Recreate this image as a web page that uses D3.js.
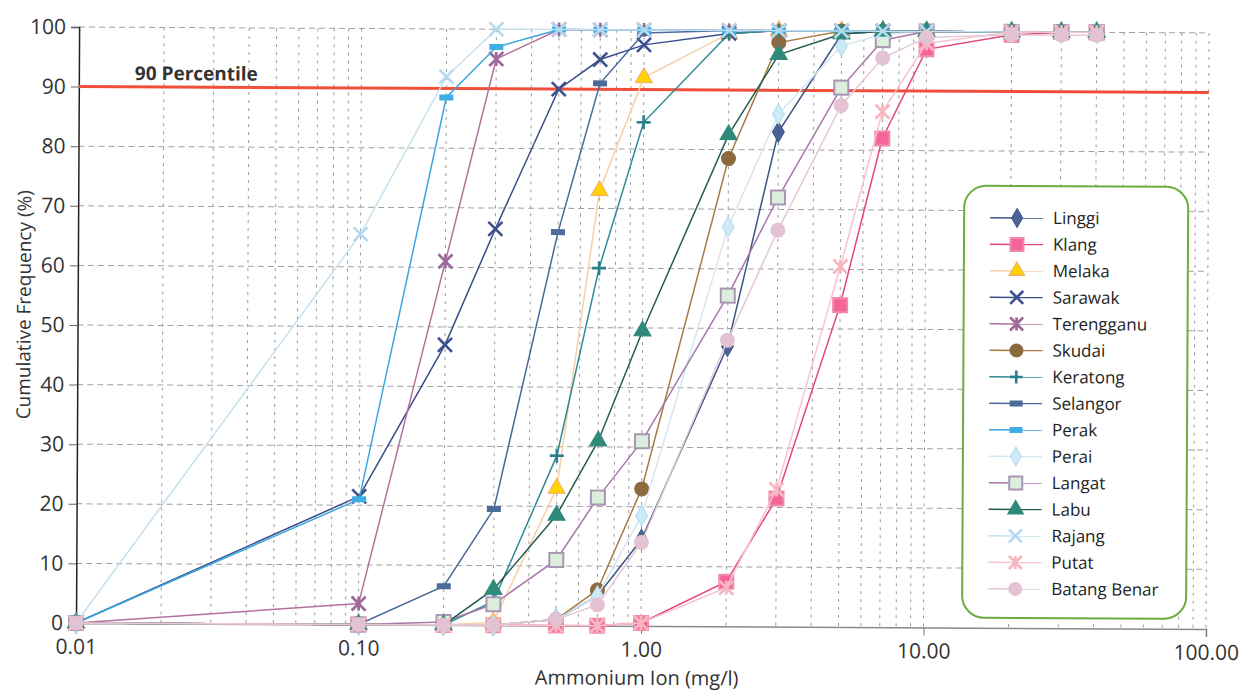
<!DOCTYPE html>
<html>
<head>
<meta charset="utf-8">
<script src="https://cdn.jsdelivr.net/npm/d3@7"></script>
<style>
  html, body { margin: 0; padding: 0; background: #ffffff; }
  svg { display: block; font-family: "Open Sans", "Noto Sans", sans-serif; }
</style>
</head>
<body>
<svg id="chart" width="1249" height="695"></svg>
<script>
// Ammonium ion concentrations sampled along the log axis (mg/l)
const concentrations = [0.01, 0.1, 0.2, 0.3, 0.5, 0.7, 1, 2, 3, 5, 7, 10, 20, 30, 40];

// Cumulative frequency (%) per river basin at each concentration
const linggi      = [0, 0, 0, 0, 1, 5, 14.5, 47, 83, 99.5, 100, 100, 100, 100, 100];
const klang       = [0, 0, 0, 0, 0, 0, 0.5, 7.5, 21.5, 54, 82, 97, 99.5, 100, 100];
const melaka      = [0, 0, 0, 0.5, 23, 73, 92, 99.5, 100, 100, 100, 100, 100, 100, 100];
const sarawak     = [0, 21.5, 47, 66.5, 90, 95, 97.5, 99.5, 100, 100, 100, 100, 100, 100, 100];
const terengganu  = [0, 3.5, 61, 95, 100, 100, 100, 100, 100, 100, 100, 100, 100, 100, 100];
const skudai      = [0, 0, 0, 0, 1, 6, 23, 78.5, 98, 100, 100, 100, 100, 100, 100];
const keratong    = [0, 0, 0, 4, 28.5, 60, 84.5, 99.5, 100, 100, 100, 100, 100, 100, 100];
const selangor    = [0, 0, 6.5, 19.5, 66, 91, 99.5, 100, 100, 100, 100, 100, 100, 100, 100];
const perak       = [0, 21, 88.5, 97, 100, 100, 100, 100, 100, 100, 100, 100, 100, 100, 100];
const perai       = [0, 0, 0, 0, 1, 5, 18.5, 67, 86, 97.5, 99.5, 100, 100, 100, 100];
const langat      = [0, 0, 0.5, 3.5, 11, 21.5, 31, 55.5, 72, 90.5, 98.5, 100, 100, 100, 100];
const labu        = [0, 0, 0, 6, 18.5, 31, 49.5, 82.5, 96, 99.5, 100, 100, 100, 100, 100];
const rajang      = [0, 65.5, 92, 100, 100, 100, 100, 100, 100, 100, 100, 100, 100, 100, 100];
const putat       = [0, 0, 0, 0, 0, 0, 0.5, 6.5, 23, 60.5, 86.5, 98, 100, 100, 100];
const batangBenar = [0, 0, 0, 0, 1, 3.5, 14, 48, 66.5, 87.5, 95.5, 99, 99.5, 99.5, 99.5];

const seriesNames = ["Linggi", "Klang", "Melaka", "Sarawak", "Terengganu", "Skudai", "Keratong",
  "Selangor", "Perak", "Perai", "Langat", "Labu", "Rajang", "Putat", "Batang Benar"];
const seriesValues = [linggi, klang, melaka, sarawak, terengganu, skudai, keratong,
  selangor, perak, perai, langat, labu, rajang, putat, batangBenar];

// Tick labels
const xTickValues = [0.01, 0.1, 1, 10, 100];
const xTickLabels = ["0.01", "0.10", "1.00", "10.00", "100.00"];
const yTickValues = [0, 10, 20, 30, 40, 50, 60, 70, 80, 90, 100];
const percentileLevel = 90;

// Line / marker styling per series
const styles = [
  { line: "#3f5486", marker: "diamond",  fill: "#4b6394", stroke: "#3f5486" },
  { line: "#e4457c", marker: "square",   fill: "#f5649a", stroke: "#f08aa8" },
  { line: "#f6cfa6", marker: "triangle", fill: "#ffd400", stroke: "#f3b06a" },
  { line: "#3c4d8c", marker: "x",        fill: "none",    stroke: "#3c4f8e" },
  { line: "#b5709e", marker: "star",     fill: "none",    stroke: "#9c6b9c" },
  { line: "#a67c44", marker: "circle",   fill: "#8c6a3e", stroke: "#8c6a3e" },
  { line: "#2f8a92", marker: "plus",     fill: "none",    stroke: "#2a7f8c" },
  { line: "#4a6b98", marker: "dash",     fill: "#4b6b98", stroke: "#4b6b98" },
  { line: "#3aa6dc", marker: "dash",     fill: "#3eaee6", stroke: "#3eaee6" },
  { line: "#d4e6ef", marker: "diamond",  fill: "#cdeaf6", stroke: "#b4dcee" },
  { line: "#a877a8", marker: "square",   fill: "#dcefdc", stroke: "#a896b4" },
  { line: "#245c54", marker: "triangle", fill: "#2f8a7a", stroke: "#2f8a7a" },
  { line: "#c6e0ee", marker: "x",        fill: "none",    stroke: "#b4d9f0" },
  { line: "#f7c4cb", marker: "star",     fill: "none",    stroke: "#f6b7c0" },
  { line: "#e4c8d6", marker: "circle",   fill: "#e3c3d3", stroke: "#e3c3d3" }
];

const svg = d3.select("#chart");

// Plot frame
const plotLeft = 76, plotRight = 1206, plotTop = 27, plotBottom = 623;

// The whole sheet sits very slightly tilted
const root = svg.append("g").attr("transform", `rotate(0.3, ${plotLeft}, ${plotBottom})`);

const x = d3.scaleLog().domain([0.01, 100]).range([plotLeft, plotRight]);
const y = d3.scaleLinear().domain([0, 100]).range([plotBottom, plotTop]);

// Vertical grid at every 1..9 multiple of each decade
const gridX = [];
for (let d = -2; d < 2; d++) {
  for (let m = 1; m <= 9; m++) {
    const v = m * Math.pow(10, d);
    if (v > 0.01) gridX.push(v);
  }
}
gridX.push(100);
root.append("g").selectAll("line").data(gridX).join("line")
  .attr("x1", d => x(d)).attr("x2", d => x(d))
  .attr("y1", y(100)).attr("y2", y(0))
  .attr("stroke", "#9a9a9a").attr("stroke-width", 1)
  .attr("stroke-dasharray", "3,5");

// Horizontal grid every 10 %
root.append("g").selectAll("line").data(yTickValues.filter(v => v > 0)).join("line")
  .attr("x1", x(0.01)).attr("x2", x(100))
  .attr("y1", d => y(d)).attr("y2", d => y(d))
  .attr("stroke", "#a0a0a0").attr("stroke-width", 1)
  .attr("stroke-dasharray", "6,4");

// Axes
const xAxis = d3.axisBottom(x).tickValues(xTickValues)
  .tickFormat((d, i) => xTickLabels[i]).tickSize(8).tickPadding(8);
const gx = root.append("g").attr("transform", `translate(0,${plotBottom})`).call(xAxis);
gx.select(".domain").attr("stroke", "#8a8a8a").attr("stroke-width", 1.5);
gx.selectAll(".tick line").attr("stroke", "#777");
gx.selectAll(".tick text").attr("fill", "#333").attr("font-size", 21)
  .attr("font-family", "'Open Sans', sans-serif");

const yAxis = d3.axisLeft(y).tickValues(yTickValues).tickSize(8).tickPadding(5);
const gy = root.append("g").attr("transform", `translate(${plotLeft},0)`).call(yAxis);
gy.select(".domain").attr("stroke", "#222").attr("stroke-width", 1.5);
gy.selectAll(".tick line").attr("stroke", "#666");
gy.selectAll(".tick text").attr("fill", "#333").attr("font-size", 21)
  .attr("font-family", "'Open Sans', sans-serif");

// Axis titles
root.append("text")
  .attr("x", 637).attr("y", 682)
  .attr("text-anchor", "middle").attr("font-size", 20).attr("fill", "#333")
  .text("Ammonium Ion (mg/l)");
root.append("text")
  .attr("transform", "translate(29,305) rotate(-90)")
  .attr("text-anchor", "middle").attr("font-size", 19).attr("fill", "#333")
  .text("Cumulative Frequency (%)");

// 90th percentile reference line
root.append("line")
  .attr("x1", x(0.01)).attr("x2", x(100))
  .attr("y1", y(percentileLevel)).attr("y2", y(percentileLevel))
  .attr("stroke", "#f0503a").attr("stroke-width", 3);
root.append("text")
  .attr("x", 132).attr("y", y(percentileLevel) - 7)
  .attr("font-size", 19).attr("font-weight", "bold").attr("fill", "#333")
  .text("90 Percentile");

// Marker drawing
function drawMarker(sel, st, size) {
  const s = size;
  if (st.marker === "diamond") {
    sel.append("path").attr("d", d3.symbol(d3.symbolDiamond, s * s * 0.62)())
      .attr("fill", st.fill).attr("stroke", st.stroke).attr("stroke-width", 1);
  } else if (st.marker === "square") {
    sel.append("rect").attr("x", -s / 2).attr("y", -s / 2).attr("width", s).attr("height", s)
      .attr("fill", st.fill).attr("stroke", st.stroke).attr("stroke-width", 2);
  } else if (st.marker === "triangle") {
    sel.append("path").attr("d", d3.symbol(d3.symbolTriangle, s * s * 0.62)())
      .attr("fill", st.fill).attr("stroke", st.stroke).attr("stroke-width", 1.2);
  } else if (st.marker === "circle") {
    sel.append("circle").attr("r", s / 2)
      .attr("fill", st.fill).attr("stroke", st.stroke).attr("stroke-width", 1);
  } else if (st.marker === "x") {
    const h = s / 2;
    sel.append("path").attr("d", `M${-h},${-h}L${h},${h}M${-h},${h}L${h},${-h}`)
      .attr("stroke", st.stroke).attr("stroke-width", 2.6).attr("fill", "none");
  } else if (st.marker === "star") {
    const h = s / 2;
    sel.append("path").attr("d", `M${-h},${-h}L${h},${h}M${-h},${h}L${h},${-h}M0,${-h}L0,${h}`)
      .attr("stroke", st.stroke).attr("stroke-width", 2.8).attr("fill", "none");
  } else if (st.marker === "plus") {
    const h = s / 2;
    sel.append("path").attr("d", `M${-h},0L${h},0M0,${-h}L0,${h}`)
      .attr("stroke", st.stroke).attr("stroke-width", 2.6).attr("fill", "none");
  } else if (st.marker === "dash") {
    sel.append("rect").attr("x", -s / 2).attr("y", -3).attr("width", s).attr("height", 6)
      .attr("fill", st.fill);
  }
}

// Series lines and markers
const line = d3.line().x(d => x(d[0])).y(d => y(d[1]));
seriesNames.forEach((name, i) => {
  const st = styles[i];
  const pts = concentrations.map((c, k) => [c, seriesValues[i][k]]);
  const g = root.append("g").attr("class", "series");
  g.append("path").datum(pts).attr("d", line)
    .attr("fill", "none").attr("stroke", st.line).attr("stroke-width", 1.5);
  g.selectAll("g.pt").data(pts).join("g").attr("class", "pt")
    .attr("transform", d => `translate(${x(d[0])},${y(d[1])})`)
    .each(function () { drawMarker(d3.select(this), st, 14); });
});

// Legend
const lgX = 962, lgY = 181, lgW = 224, lgH = 432;
const legend = root.append("g");
legend.append("rect")
  .attr("x", lgX).attr("y", lgY).attr("width", lgW).attr("height", lgH)
  .attr("rx", 22).attr("ry", 22)
  .attr("fill", "#ffffff").attr("stroke", "#6cae3c").attr("stroke-width", 2);
const rowStep = 26.5;
seriesNames.forEach((name, i) => {
  const st = styles[i];
  const cy = 213 + i * rowStep;
  const row = legend.append("g");
  row.append("line").attr("x1", 988).attr("x2", 1041).attr("y1", cy).attr("y2", cy)
    .attr("stroke", st.line).attr("stroke-width", 1.5);
  const m = row.append("g").attr("transform", `translate(1015,${cy})`);
  drawMarker(m, st, 13);
  row.append("text").attr("x", 1051).attr("y", cy + 6)
    .attr("font-size", 17).attr("fill", "#222").text(name);
});
</script>
</body>
</html>
